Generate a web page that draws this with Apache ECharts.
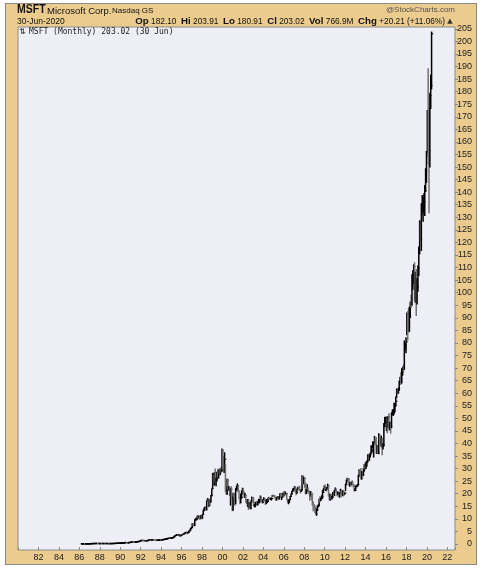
<!DOCTYPE html>
<html><head><meta charset="utf-8">
<script src="https://cdn.jsdelivr.net/npm/echarts@6/dist/echarts.min.js"></script>
<style>
html,body{margin:0;padding:0;background:#fff;}
#frame{position:absolute;left:5px;top:3px;width:470px;height:560px;background:#EBCB8E;border:1px solid #8a8a8a;}
#chart{position:absolute;left:0;top:0;width:490px;height:572px;}
</style></head><body>
<div id="frame"></div><div id="chart"></div>
<script>
// Monthly bars, first bar = March 1986, last bar = June 2020 (dividend/split adjusted)
const startYear = 1986, startMonth = 3;

const highs = [
0.07,0.07,0.08,0.08,0.07,0.07,0.08,0.08,0.08,0.09,
0.12,0.15,0.17,0.18,0.18,0.18,0.20,0.23,0.26,0.27,0.19,0.18,
0.19,0.20,0.20,0.20,0.20,0.20,0.19,0.18,0.18,0.18,0.17,0.17,
0.19,0.19,0.19,0.20,0.23,0.24,0.27,0.30,0.31,0.31,0.31,0.32,
0.40,0.42,0.44,0.47,0.54,0.58,0.60,0.56,0.50,0.54,0.62,0.68,
0.72,0.80,0.88,0.88,0.84,0.82,0.87,0.94,0.98,1.03,1.12,1.36,
1.45,1.52,1.50,1.44,1.40,1.40,1.34,1.38,1.53,1.65,1.74,1.76,
1.70,1.77,1.80,1.78,1.72,1.65,1.52,1.58,1.62,1.66,1.72,1.68,
1.70,1.75,1.84,1.86,1.98,2.06,2.14,2.26,2.32,2.44,2.48,2.48,
2.52,2.60,2.84,3.24,3.46,3.75,3.90,3.74,3.74,3.62,3.55,3.66,
3.96,4.10,4.20,4.50,4.70,4.80,4.75,4.70,5.25,5.65,6.30,6.80,
8.3,8.4,8.2,9.8,10.3,10.5,11.3,11.4,11.2,11.3,11.4,11.3,
11.9,13.7,14.5,14.9,14.5,17.3,18.3,18.2,17.8,17.9,19.5,22.1,
28.3,27.5,28.6,30.0,26.5,28.7,29.9,29.6,30.1,30.0,30.7,38.0,
37.7,34.9,36.5,31.8,22.9,26.0,26.0,23.1,22.5,22.3,23.0,19.1,
20.4,20.3,20.4,22.2,23.2,24.1,23.4,21.3,18.8,20.1,21.3,22.4,
22.3,20.4,20.3,19.6,17.6,17.9,17.6,16.6,16.1,17.3,18.9,18.7,
18.6,15.9,16.6,16.9,17.2,17.0,18.0,17.7,19.3,18.9,17.0,17.8,
18.6,18.1,17.5,17.9,17.3,18.5,18.8,18.5,18.3,18.6,19.5,19.7,
19.5,19.1,18.5,18.6,19.0,18.9,18.9,20.2,20.0,18.8,20.4,20.4,
20.9,20.7,20.5,20.2,17.9,17.6,17.9,19.1,20.1,21.2,22.1,22.3,
23.0,22.9,21.0,22.1,22.8,22.8,23.2,21.6,21.8,27.4,27.2,26.8,
26.6,24.4,21.8,23.8,22.6,21.4,20.6,21.1,20.7,19.7,17.0,15.9,
15.5,14.7,14.1,15.4,15.7,18.0,19.0,18.5,19.4,21.4,22.1,23.3,
23.7,22.0,22.7,24.0,23.6,20.4,19.9,20.0,19.1,20.7,21.0,21.6,
22.5,22.1,21.1,20.9,20.0,20.3,22.0,21.5,21.5,21.4,21.2,20.4,
24.0,25.6,26.4,26.3,26.3,24.7,24.8,24.8,25.3,24.0,23.8,22.2,
23.4,23.4,23.8,27.5,29.7,29.7,30.2,29.0,28.1,30.1,31.8,32.4,
32.7,33.2,35.7,35.9,35.7,36.4,39.3,39.2,40.9,40.6,43.0,42.1,
42.6,39.4,39.3,44.1,43.5,42.5,43.1,42.2,40.1,48.1,50.6,50.6,
50.7,50.4,50.9,52.0,48.5,48.4,52.4,53.5,53.7,56.2,56.2,58.7,
61.9,61.3,62.2,65.0,66.5,68.5,69.9,70.5,71.4,81.0,80.0,82.3,
92.1,92.7,93.8,94.5,96.5,99.1,107.3,108.9,111.3,112.1,108.3,109.4,
105.7,110.9,118.4,128.8,128.0,135.6,138.9,138.1,139.6,142.8,149.5,156.4,
172.7,189.3,173.8,179.6,186.7,203.9
];

const lows = [
0.05,0.06,0.06,0.06,0.06,0.06,0.06,0.07,0.07,0.07,
0.08,0.11,0.14,0.15,0.16,0.16,0.17,0.19,0.21,0.14,0.15,0.15,
0.16,0.18,0.17,0.18,0.18,0.18,0.16,0.16,0.16,0.16,0.15,0.15,
0.16,0.17,0.17,0.18,0.19,0.21,0.23,0.26,0.27,0.26,0.27,0.28,
0.32,0.37,0.39,0.42,0.44,0.51,0.52,0.44,0.42,0.45,0.51,0.58,
0.60,0.68,0.76,0.78,0.72,0.74,0.79,0.84,0.90,0.93,0.99,1.08,
1.28,1.36,1.36,1.26,1.26,1.22,1.22,1.27,1.33,1.48,1.60,1.58,
1.55,1.60,1.66,1.64,1.56,1.45,1.30,1.38,1.48,1.50,1.56,1.55,
1.56,1.62,1.66,1.74,1.80,1.90,1.96,2.08,2.14,2.20,2.28,2.30,
2.30,2.40,2.50,2.78,3.10,3.30,3.45,3.42,3.42,3.10,3.12,3.20,
3.40,3.70,3.70,3.95,4.30,4.40,3.90,4.30,4.50,5.10,5.40,6.00,
6.5,7.4,7.0,7.2,9.3,9.4,9.9,10.1,10.2,9.5,10.0,9.8,
10.1,11.8,13.0,13.7,13.2,13.5,17.0,14.6,14.9,15.2,16.5,18.9,
22.0,23.0,23.3,24.8,23.0,24.9,26.7,26.0,28.0,27.4,28.3,28.7,
29.8,28.3,28.3,20.6,19.6,19.6,21.8,21.2,19.1,15.3,17.7,13.0,
13.2,18.5,15.2,15.8,21.0,21.5,20.6,17.8,15.8,16.3,18.1,19.8,
19.6,18.3,18.4,16.4,15.9,14.7,13.6,14.2,13.9,13.8,16.6,16.4,
15.2,14.6,14.6,15.4,15.6,15.3,16.2,16.2,17.1,16.6,16.2,16.2,
17.4,17.0,15.5,15.9,16.3,16.7,18.1,17.5,17.5,17.3,18.8,19.1,
18.6,18.1,17.3,17.3,18.1,17.9,17.6,18.5,18.2,17.5,18.6,18.9,
19.2,19.3,19.7,17.6,16.5,15.8,16.3,17.5,18.8,19.6,20.7,21.2,
21.5,20.3,19.4,20.0,21.9,21.5,21.2,20.1,20.7,21.5,23.7,23.8,
22.4,19.7,19.9,20.8,20.4,19.8,17.2,18.9,17.4,15.3,13.0,13.7,
12.3,11.6,11.2,13.2,14.5,15.0,16.6,17.1,17.8,18.0,20.4,21.6,
21.3,21.0,21.7,22.4,18.8,17.3,17.3,17.7,17.7,18.4,19.1,19.2,
21.5,20.4,19.0,19.5,18.7,18.4,20.1,18.6,19.2,19.0,19.0,19.6,
21.1,23.7,25.0,24.2,23.1,22.8,22.8,23.4,23.6,22.6,21.0,21.0,
21.8,22.7,22.8,23.3,26.8,27.1,25.7,25.6,26.1,27.1,28.8,29.5,
29.8,30.7,32.4,33.1,33.1,34.4,35.9,36.3,38.2,34.4,40.2,39.1,
35.8,35.8,35.8,35.7,41.3,39.2,38.5,35.3,37.6,38.8,46.5,47.8,
44.9,44.1,46.3,45.2,45.3,43.9,46.1,51.3,50.9,51.5,52.4,54.7,
58.2,59.8,59.8,60.9,63.5,63.5,63.9,67.0,68.5,69.3,77.2,75.9,
83.1,80.9,84.1,84.4,89.9,93.9,94.9,101.1,103.4,96.6,95.9,90.7,
95.3,100.4,106.6,115.7,120.5,116.6,132.0,128.2,131.8,130.5,140.1,143.7,
155.3,150.9,131.6,149.8,173.1,180.9
];

const closes = [
0.06,0.07,0.07,0.07,0.06,0.07,0.07,0.08,0.08,0.08,
0.11,0.14,0.16,0.17,0.17,0.17,0.19,0.22,0.25,0.19,0.16,0.17,
0.18,0.19,0.18,0.19,0.19,0.19,0.17,0.17,0.17,0.17,0.16,0.16,
0.18,0.18,0.18,0.19,0.22,0.23,0.26,0.29,0.29,0.29,0.30,0.31,
0.38,0.40,0.42,0.45,0.52,0.55,0.55,0.48,0.46,0.52,0.60,0.66,
0.70,0.78,0.85,0.82,0.76,0.80,0.85,0.92,0.95,1.00,1.10,1.33,
1.40,1.45,1.42,1.30,1.38,1.28,1.30,1.35,1.50,1.62,1.70,1.62,
1.62,1.70,1.75,1.68,1.62,1.52,1.40,1.55,1.55,1.60,1.65,1.60,
1.65,1.70,1.80,1.82,1.95,2.00,2.10,2.20,2.25,2.40,2.35,2.40,
2.45,2.55,2.80,3.20,3.40,3.55,3.60,3.50,3.60,3.15,3.45,3.50,
3.90,3.80,4.10,4.40,4.50,4.70,4.40,4.60,5.20,5.50,6.20,6.60,
8.0,7.8,7.3,9.6,9.8,10.0,11.2,10.5,10.5,10.3,11.2,10.3,
11.8,13.4,14.2,14.3,13.5,17.2,17.7,15.2,17.5,16.8,19.3,22.0,
27.8,23.8,28.4,25.8,25.8,28.6,27.2,29.3,28.8,29.4,29.1,37.1,
31.1,28.4,33.7,22.2,19.9,25.4,22.2,22.2,19.2,21.8,18.3,13.8,
19.1,18.8,17.3,21.5,22.0,23.2,21.0,18.1,16.3,18.5,20.4,21.0,
20.4,18.7,19.3,16.7,16.3,17.5,15.4,15.7,14.0,17.1,18.5,16.6,
15.3,15.3,15.6,16.5,15.9,16.5,17.0,17.1,17.9,16.8,16.6,17.7,
17.9,17.1,16.1,16.9,17.0,18.5,18.4,17.7,17.9,18.1,19.3,19.2,
19.1,18.3,17.5,18.3,18.7,18.0,18.6,19.9,18.6,18.6,20.1,19.0,
20.7,19.8,20.0,17.8,16.7,17.1,17.7,18.9,20.1,21.1,21.6,22.0,
22.6,20.6,20.4,21.8,22.4,21.5,21.2,21.0,21.5,26.9,24.5,26.0,
24.1,20.1,21.0,21.1,20.9,20.4,19.0,20.2,19.8,16.5,14.9,14.4,
12.6,12.0,13.6,15.0,15.5,17.6,17.4,18.3,19.0,20.5,21.8,22.6,
21.4,21.8,22.3,23.2,19.6,17.5,19.6,17.9,18.6,20.3,19.2,21.2,
21.6,20.7,19.8,20.3,19.5,20.3,21.4,20.7,19.4,20.7,20.0,20.3,
23.6,25.4,25.8,25.6,23.4,24.5,23.6,24.6,23.8,22.8,21.3,21.4,
22.8,23.1,23.7,27.5,29.0,28.6,26.4,27.7,27.6,29.4,31.6,31.0,
32.5,32.9,35.3,34.7,35.2,35.9,37.2,39.0,39.9,40.4,41.1,40.0,
36.0,39.1,36.2,43.3,41.7,39.3,41.6,38.7,39.4,46.8,48.4,49.4,
50.4,46.7,50.5,45.7,48.5,46.8,51.9,52.6,52.7,54.8,55.2,56.8,
60.8,60.2,61.9,64.4,65.6,64.8,68.3,70.3,70.0,78.2,79.1,80.4,
91.7,90.5,88.1,90.2,95.3,95.1,102.4,108.4,110.4,103.3,107.0,98.0,
102.3,109.8,115.5,128.0,121.2,131.3,133.6,135.1,136.2,140.5,148.4,154.5,
168.9,160.8,156.6,178.4,182.5,203.0
];

const yMin = 0, yMax = 205, yStep = 5;
const xMin = 1980, xMax = 2022.75, xStep = 2;

const bars = closes.map(function (c, i) {
  const m = startMonth - 1 + i;
  const t = startYear + Math.floor(m / 12) + ((m % 12) + 0.5) / 12;
  const prev = i > 0 ? closes[i - 1] : c;
  return [t, highs[i], lows[i], c, c >= prev ? 1 : 0];
});

const FONT = '"Liberation Sans", Arial, sans-serif';
const chart = echarts.init(document.getElementById('chart'), null, {renderer: 'canvas'});

chart.setOption({
  backgroundColor: 'transparent',
  animation: false,
  grid: [
    {left: 18, right: 35, top: 28.8, bottom: 28},
    {left: 18, right: 35, top: 27, bottom: 22, show: true, backgroundColor: '#EEEEF7', borderColor: '#8c8c8c', borderWidth: 1}
  ],
  xAxis: [
    {gridIndex: 0, type: 'value', min: xMin, max: xMax, show: false},
    {gridIndex: 1, type: 'value', min: xMin, max: xMax, interval: xStep,
     axisLine: {show: false}, splitLine: {show: false},
     axisTick: {show: true, inside: true, length: 3, lineStyle: {color: '#888'}},
     axisLabel: {margin: 3, fontSize: 9, fontFamily: FONT, color: '#222',
       formatter: function (v) { return (v % 2 === 0 && v > xMin) ? String(v).slice(2) : ''; }}}
  ],
  yAxis: [
    {gridIndex: 0, type: 'value', position: 'right', min: yMin, max: yMax, interval: yStep,
     axisLine: {show: false}, splitLine: {show: false},
     axisTick: {show: true, length: 3, lineStyle: {color: '#888'}},
     axisLabel: {align: 'right', margin: 17, fontSize: 9, fontFamily: FONT, color: '#222'}},
    {gridIndex: 1, type: 'value', min: 0, max: 1, show: false}
  ],
  series: [{
    type: 'custom',
    xAxisIndex: 0, yAxisIndex: 0,
    clip: false,
    encode: {x: 0, y: [1, 2]},
    data: bars,
    renderItem: function (params, api) {
      const hi = api.coord([api.value(0), api.value(1)]);
      const lo = api.coord([api.value(0), api.value(2)]);
      const cl = api.coord([api.value(0), api.value(3)]);
      const color = api.value(4) ? '#000000' : '#707070';
      const px = hi[0];
      let y1 = hi[1], y2 = lo[1];
      if (y2 - y1 < 1.5) { y1 = (y1 + y2) / 2 - 0.75; y2 = y1 + 1.5; }
      return {type: 'group', children: [
        {type: 'line', shape: {x1: px, y1: y1, x2: px, y2: y2}, style: {stroke: color, lineWidth: 1.5}},
        {type: 'line', shape: {x1: px, y1: cl[1], x2: px + 1.8, y2: cl[1]}, style: {stroke: color, lineWidth: 1}}
      ]};
    }
  }],
  graphic: {elements: [
    {type: 'text', x: 17, y: 10, scaleX: 0.84, style: {text: 'MSFT', font: 'bold 12.5px ' + FONT, fill: '#111', verticalAlign: 'middle'}},
    {type: 'text', x: 47, y: 11, style: {text: 'Microsoft Corp.', font: '9.5px ' + FONT, fill: '#111', verticalAlign: 'middle'}},
    {type: 'text', x: 112, y: 11, style: {text: 'Nasdaq GS', font: '8px ' + FONT, fill: '#111', verticalAlign: 'middle'}},
    {type: 'text', x: 455, y: 10, style: {text: '@StockCharts.com', font: '8px ' + FONT, fill: '#555', align: 'right', verticalAlign: 'middle'}},
    {type: 'text', x: 17, y: 21.5, style: {text: '30-Jun-2020', font: '8.5px ' + FONT, fill: '#111', verticalAlign: 'middle'}},
    {type: 'text', x: 445, y: 21.5, style: {
      text: '{b|Op} 182.10  {b|Hi} 203.91  {b|Lo} 180.91  {b|Cl} 203.02  {b|Vol} 766.9M  {b|Chg} +20.21 (+11.06%)',
      font: '8.3px ' + FONT, fill: '#111', align: 'right', verticalAlign: 'middle',
      rich: {b: {fontWeight: 'bold', fontSize: 9.7, fontFamily: FONT, fill: '#111'}}}},
    {type: 'text', x: 450, y: 21, style: {text: '▲', font: '7px "DejaVu Sans"', fill: '#333', align: 'center', verticalAlign: 'middle'}},
    {type: 'text', x: 19, y: 32, style: {text: '⇅', font: '8px "DejaVu Sans"', fill: '#222', verticalAlign: 'middle'}},
    {type: 'text', x: 29, y: 32, style: {text: 'MSFT (Monthly) 203.02 (30 Jun)', font: '8px "DejaVu Sans Mono"', fill: '#222', verticalAlign: 'middle'}}
  ]}
});
</script>
</body></html>
